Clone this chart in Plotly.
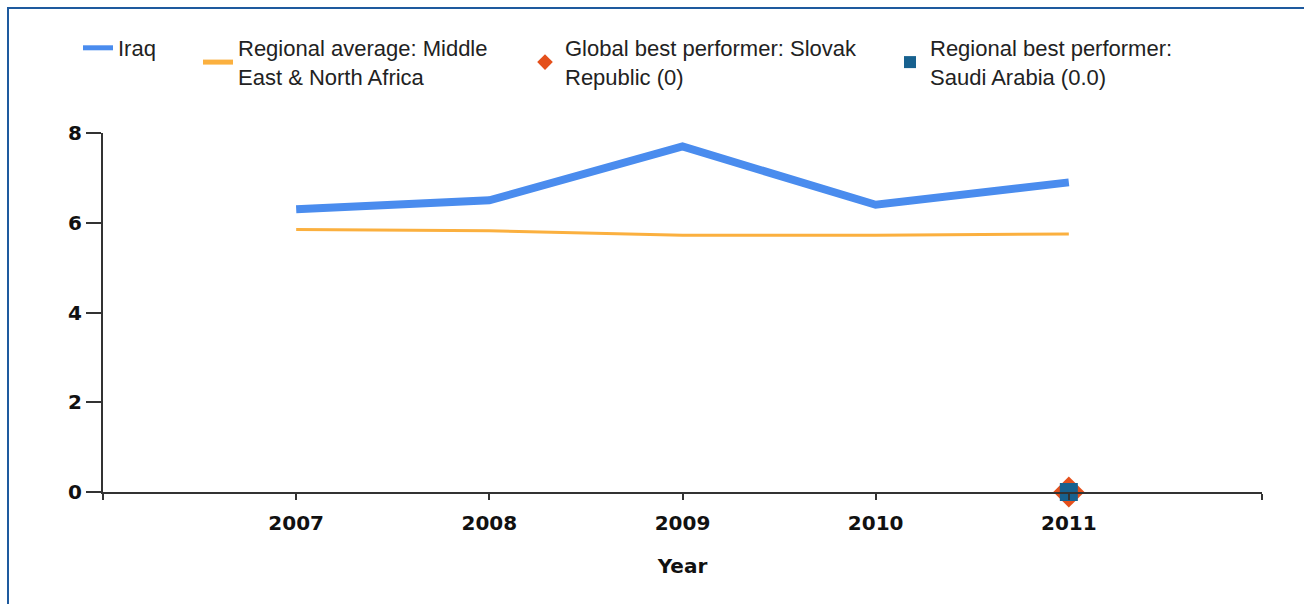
import plotly.graph_objects as go

years = [2007, 2008, 2009, 2010, 2011]
iraq = [6.3, 6.5, 7.7, 6.4, 6.9]
regional_avg = [5.85, 5.82, 5.72, 5.72, 5.75]
global_best_year = [2011]
global_best = [0]
regional_best_year = [2011]
regional_best = [0]

x_tickvals = [2006, 2007, 2008, 2009, 2010, 2011, 2012]
x_ticktext = ["", "2007", "2008", "2009", "2010", "2011", ""]
y_tickvals = [0, 2, 4, 6, 8]

name_iraq = "Iraq"
name_reg = "Regional average: Middle<br>East & North Africa"
name_glob = "Global best performer: Slovak<br>Republic (0)"
name_regb = "Regional best performer:<br>Saudi Arabia (0.0)"

ML, MR, MT, MB = 103, 42, 133, 112
W, H = 1304, 604
PW, PH = W - ML - MR, H - MT - MB

def px_x(p):
    return (p - ML) / PW

def px_y(p):
    return (H - MB - p) / PH

fig = go.Figure()
fig.add_trace(go.Scatter(x=years, y=iraq, mode="lines", name=name_iraq,
                         line=dict(color="#4A8CEE", width=8), legend="legend"))
fig.add_trace(go.Scatter(x=years, y=regional_avg, mode="lines", name=name_reg,
                         line=dict(color="#FBB03F", width=3), legend="legend2"))
fig.add_trace(go.Scatter(x=global_best_year, y=global_best, mode="markers", name=name_glob,
                         marker=dict(symbol="diamond", color="#E4501C", size=24),
                         cliponaxis=False, legend="legend3"))
fig.add_trace(go.Scatter(x=regional_best_year, y=regional_best, mode="markers", name=name_regb,
                         marker=dict(symbol="square", color="#17618F", size=18),
                         cliponaxis=False, legend="legend4"))

legfont = dict(family="Liberation Sans, Arial, sans-serif", size=22, color="#222222")
leg_y = px_y(27)
def leg(xpix):
    return dict(x=px_x(xpix), y=leg_y, xanchor="left", yanchor="top",
                font=legfont, bgcolor="rgba(0,0,0,0)", borderwidth=0,
                itemsizing="constant", tracegroupgap=0)

tickfont = dict(family="DejaVu Sans, Verdana, sans-serif", size=20, color="#111111", weight="bold")

fig.update_layout(
    width=W, height=H,
    margin=dict(l=ML, r=MR, t=MT, b=MB, pad=0),
    paper_bgcolor="white", plot_bgcolor="white",
    showlegend=True,
    legend=leg(78), legend2=leg(198), legend3=leg(525), legend4=leg(890),
    xaxis=dict(range=[2006, 2012], tickvals=x_tickvals, ticktext=x_ticktext,
               showgrid=False, zeroline=False, showline=True, linecolor="#333333", linewidth=2,
               ticks="outside", ticklen=6, tickwidth=2, tickcolor="#333333",
               tickfont=tickfont, ticklabelstandoff=6,
               title=dict(text="Year", font=tickfont, standoff=25)),
    yaxis=dict(range=[0, 8], tickvals=y_tickvals,
               showgrid=False, zeroline=False, showline=True, linecolor="#333333", linewidth=2,
               ticks="outside", ticklen=15, tickwidth=2, tickcolor="#333333",
               tickfont=tickfont, ticklabelstandoff=0),
    shapes=[dict(type="rect", xref="paper", yref="paper",
                 x0=px_x(8), x1=px_x(W + 10), y0=px_y(H + 10), y1=px_y(8),
                 line=dict(color="#1E5A9E", width=2), fillcolor="rgba(0,0,0,0)", layer="above")],
)

fig.write_html("out.html", config={"displayModeBar": False},
               post_script="document.body.style.margin='0';document.body.style.overflow='hidden';")
